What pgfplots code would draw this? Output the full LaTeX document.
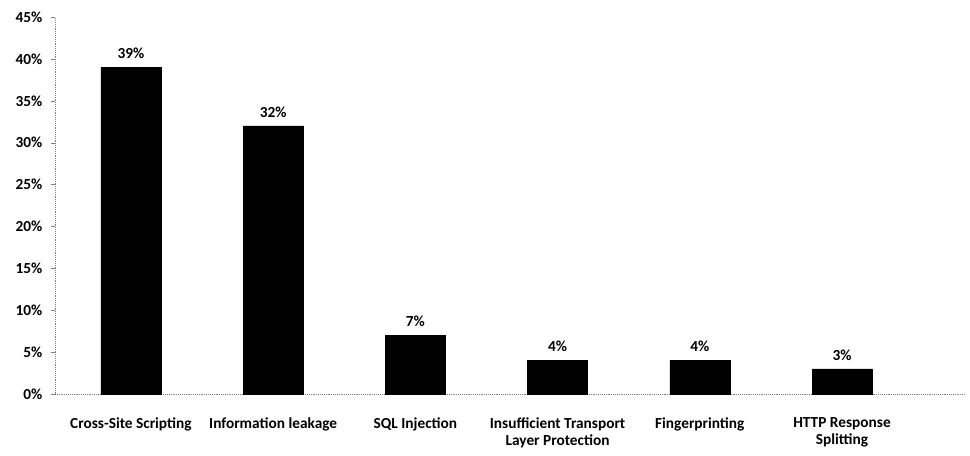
\documentclass[border=0pt]{standalone}
\usepackage{fontspec}
\setmainfont{Carlito}
\usepackage{pgfplots}
\pgfplotsset{compat=1.18}
\newcommand\lbl{\fontsize{11.5}{13}\selectfont\bfseries}
\begin{document}
\begin{tikzpicture}
% fixed canvas around the axis box
\path[use as bounding box] (-41.25pt,-45.75pt) rectangle (686.25pt,295.5pt);
\begin{axis}[
  at={(0,0)}, anchor=south west,
  scale only axis, width=682.5pt, height=282.75pt,
  xmin=-0.534, xmax=5.865, ymin=0, ymax=45,
  ytick={0,5,...,45},
  yticklabel={\pgfmathprintnumber{\tick}\%},
  /pgf/number format/assume math mode=true,
  xtick={0,...,5},
  xticklabels={Cross-Site Scripting, Information leakage, SQL Injection,
    {Insufficient Transport\\Layer Protection}, Fingerprinting,
    {HTTP Response\\Splitting}},
  axis x line*=bottom, axis y line*=left,
  axis line style={gray, densely dotted, -},
  tick align=outside, major tick length=3pt,
  ytick style={gray}, xtick style={draw=none},
  tick label style={font=\lbl},
  yticklabel style={xshift=-3pt},
  xticklabel style={align=center, yshift=-11pt, font=\lbl},
  ybar, bar width=45pt,
  nodes near coords={\pgfmathprintnumber{\pgfplotspointmeta}\%},
  nodes near coords style={font=\lbl, yshift=3pt},
]
\addplot[fill=black, draw=black] coordinates {(0,39) (1,32) (2,7) (3,4) (4,4) (5,3)};
\end{axis}
\end{tikzpicture}
\end{document}
